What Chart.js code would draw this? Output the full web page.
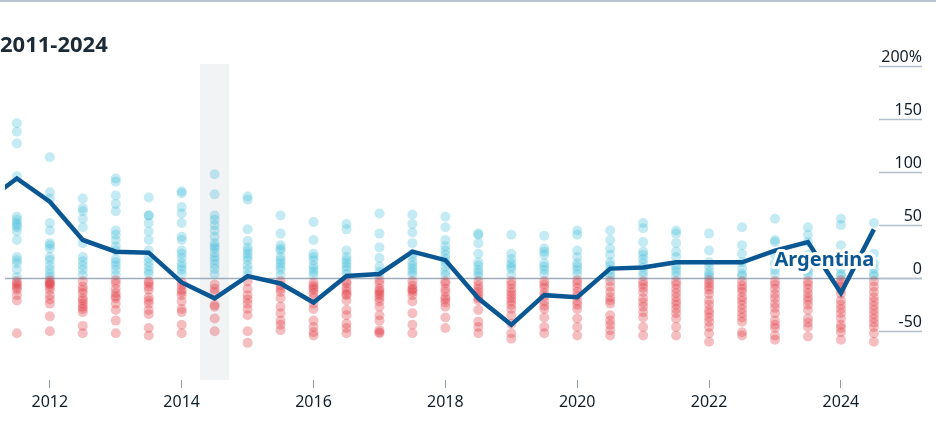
<!DOCTYPE html>
<html>
<head>
<meta charset="utf-8">
<script src="https://cdn.jsdelivr.net/npm/chart.js@4.4.1/dist/chart.umd.min.js"></script>
<style>
  html, body { margin: 0; padding: 0; background: #fff; }
  #wrap { width: 936px; height: 422px; position: relative; }
</style>
</head>
<body>
<div id="wrap"><canvas id="chart"></canvas></div>
<script>
// half-year periods, one column of dots each
const periods = [2011.5, 2012, 2012.5, 2013, 2013.5, 2014, 2014.5, 2015, 2015.5, 2016, 2016.5, 2017, 2017.5,
  2018, 2018.5, 2019, 2019.5, 2020, 2020.5, 2021, 2021.5, 2022, 2022.5, 2023, 2023.5, 2024, 2024.5];

// other countries, % change per period
const spread = [
  [146, 138, 127, 96, 58, 55, 52, 50, 48, 44, 36, 20, 17, 14, 8, 1, -3, -5, -7, -9, -11, -16, -21, -52],
  [114, 81, 75, 52, 45, 33, 31, 28, 20, 17, 12, 8, 4, 1, -2, -4, -5, -6, -8, -11, -16, -20, -24, -36, -50],
  [75, 66, 63, 56, 48, 33, 20, 16, 12, 8, 3, -3, -8, -11, -14, -19, -21, -24, -27, -29, -32, -45, -52],
  [94, 91, 78, 70, 63, 45, 41, 36, 30, 26, 18, 15, 12, 8, 3, -2, -5, -10, -14, -17, -19, -24, -30, -40, -52],
  [76, 59, 59, 52, 44, 36, 26, 19, 15, 11, 7, 4, -3, -5, -8, -11, -18, -21, -24, -30, -34, -47, -54],
  [82, 80, 67, 61, 52, 39, 36, 26, 23, 19, 14, 11, 8, 4, -4, -7, -11, -13, -16, -22, -29, -32, -44, -52],
  [98, 79, 59, 55, 50, 45, 39, 33, 30, 28, 24, 20, 17, 13, 9, 4, -6, -10, -13, -25, -27, -38, -50],
  [77, 74, 46, 35, 29, 26, 23, 20, 17, 12, 8, 3, -3, -10, -16, -20, -24, -29, -35, -50, -61],
  [59, 42, 31, 28, 26, 20, 17, 14, 11, 8, 3, -3, -7, -10, -13, -19, -27, -33, -40, -44, -49],
  [53, 36, 23, 20, 17, 12, 9, 6, 3, -4, -7, -9, -11, -14, -18, -24, -29, -40, -46, -51, -54],
  [51, 46, 26, 20, 17, 14, 11, 8, 4, -3, -5, -9, -12, -15, -16, -21, -30, -35, -43, -47, -52],
  [61, 42, 29, 19, 11, 6, 3, -2, -5, -10, -12, -14, -16, -19, -22, -27, -35, -40, -49, -51, -52],
  [60, 51, 43, 33, 23, 20, 15, 12, 9, 6, 3, -3, -7, -10, -11, -13, -16, -22, -33, -44, -52],
  [58, 48, 36, 30, 26, 22, 18, 15, 11, 6, 3, -3, -5, -10, -13, -18, -20, -23, -27, -37, -47],
  [42, 41, 33, 23, 15, 12, 8, 5, 2, -3, -7, -10, -13, -16, -19, -21, -30, -41, -46, -52],
  [41, 23, 18, 14, 11, 9, 3, -3, -6, -10, -13, -16, -19, -22, -25, -29, -35, -43, -52, -57],
  [40, 28, 25, 22, 14, 11, 8, 4, -3, -6, -9, -14, -17, -22, -26, -29, -37, -46, -52],
  [45, 41, 26, 20, 14, 11, 8, 4, -2, -5, -9, -13, -17, -22, -25, -29, -38, -46, -54],
  [45, 36, 28, 22, 15, 12, 8, 4, 1, -3, -8, -13, -18, -21, -24, -35, -40, -44, -49, -54],
  [52, 47, 34, 25, 22, 18, 14, 10, 6, 2, -3, -6, -9, -13, -19, -23, -27, -32, -37, -46, -54],
  [45, 42, 33, 25, 20, 12, 9, 6, 2, -3, -6, -10, -14, -18, -22, -25, -29, -33, -38, -46, -54],
  [42, 26, 15, 11, 6, 3, 1, -2, -5, -8, -11, -15, -21, -25, -30, -33, -37, -41, -46, -52, -60],
  [48, 31, 23, 15, 9, 4, 2, -3, -7, -10, -13, -18, -21, -25, -29, -33, -37, -41, -51, -54],
  [56, 36, 34, 22, 14, 8, 4, -3, -6, -10, -15, -19, -24, -28, -33, -40, -44, -47, -54, -58],
  [48, 41, 34, 22, 14, 9, 6, 3, -3, -6, -10, -14, -18, -21, -25, -30, -38, -42, -46, -55],
  [56, 50, 31, 9, 4, 2, -2, -5, -8, -11, -15, -21, -25, -29, -33, -38, -44, -47, -51, -58],
  [52, 23, 14, 9, 4, 2, -3, -8, -13, -18, -22, -26, -30, -34, -38, -42, -46, -52, -60]
];

// Argentina, one more period to the left that runs off the chart
const argentinaPeriods = [2011, ...periods];
const argentina = [71, 94, 72, 36, 25, 24, -4, -19, 2, -5, -23, 2, 4, 25, 17, -19, -44, -16, -18,
  9, 10, 15, 15, 15, 26, 34, -14, 46];

const xTicks = [2012, 2014, 2016, 2018, 2020, 2022, 2024];
const yTicks = [200, 150, 100, 50, 0, -50];
const yTickLabels = ['200%', '150', '100', '50', '0', '-50'];
const title = '2011-2024';
const seriesLabel = 'Argentina';

const FONT = '"Noto Sans", "DejaVu Sans", sans-serif';
const INK = '#121f2b';
const GRID = '#b3c0cc';
const LINE = '#0b5794';

const dots = [];
periods.forEach((p, i) => spread[i].forEach(v => dots.push({ x: p, y: v })));
const argPoints = argentinaPeriods.map((p, i) => ({ x: p, y: argentina[i] }));

const decor = {
  id: 'decor',
  beforeDraw(chart) {
    const { ctx, chartArea, scales } = chart;
    ctx.save();
    // top rule
    ctx.fillStyle = '#b9c5d1';
    ctx.fillRect(0, 0, chart.width, 2);
    // title
    ctx.fillStyle = '#1c2a36';
    ctx.font = 'bold 22px ' + FONT;
    ctx.textBaseline = 'alphabetic';
    ctx.textAlign = 'left';
    ctx.fillText(title, 0, 52);
    // shaded band round mid-2014
    const x0 = scales.x.getPixelForValue(2014.28);
    const x1 = scales.x.getPixelForValue(2014.72);
    ctx.fillStyle = '#f2f3f5';
    ctx.fillRect(x0, chartArea.top - 2, x1 - x0, chartArea.bottom - chartArea.top + 2);
    ctx.restore();
  },
  beforeDatasetsDraw(chart) {
    const { ctx, chartArea, scales } = chart;
    ctx.save();
    ctx.strokeStyle = '#9fadba';
    ctx.lineWidth = 1.5;
    const y0 = Math.round(scales.y.getPixelForValue(0)) + 0.5;
    ctx.beginPath();
    ctx.moveTo(chartArea.left, y0);
    ctx.lineTo(chartArea.right, y0);
    ctx.stroke();
    ctx.restore();
  },
  afterDatasetsDraw(chart) {
    const { ctx, chartArea, scales } = chart;
    ctx.save();
    // right-hand value labels over short grid stubs
    ctx.font = '16px ' + FONT;
    ctx.textAlign = 'right';
    ctx.textBaseline = 'alphabetic';
    yTicks.forEach((t, i) => {
      const y = Math.round(scales.y.getPixelForValue(t)) + 0.5;
      ctx.strokeStyle = GRID;
      ctx.lineWidth = 1.5;
      ctx.beginPath();
      ctx.moveTo(chartArea.right - 43, y);
      ctx.lineTo(chartArea.right, y);
      ctx.stroke();
      ctx.fillStyle = INK;
      ctx.fillText(yTickLabels[i], chartArea.right, y - 5);
    });
    // series label with white halo
    const lx = scales.x.getPixelForValue(2023.75);
    const ly = scales.y.getPixelForValue(11);
    ctx.font = 'bold 20px ' + FONT;
    ctx.textAlign = 'center';
    ctx.lineJoin = 'round';
    ctx.lineWidth = 6;
    ctx.strokeStyle = '#fff';
    ctx.strokeText(seriesLabel, lx, ly);
    ctx.fillStyle = LINE;
    ctx.fillText(seriesLabel, lx, ly);
    ctx.restore();
  }
};

new Chart(document.getElementById('chart'), {
  type: 'scatter',
  data: {
    datasets: [
      {
        type: 'line',
        label: seriesLabel,
        data: argPoints,
        borderColor: LINE,
        borderWidth: 4.5,
        pointRadius: 0,
        tension: 0,
        fill: false,
        borderJoinStyle: 'miter'
      },
      {
        label: 'Others',
        data: dots,
        pointRadius: 5,
        pointBorderWidth: 0,
        pointBackgroundColor: c => (c.raw && c.raw.y >= 0) ? 'rgba(60,185,215,0.3)' : 'rgba(225,55,65,0.32)',
        pointBorderColor: 'rgba(0,0,0,0)'
      }
    ]
  },
  options: {
    responsive: true,
    maintainAspectRatio: false,
    animation: false,
    layout: { padding: { left: 0, right: 14, top: 66, bottom: 8 } },
    plugins: {
      legend: { display: false },
      tooltip: { enabled: false },
      title: { display: false }
    },
    scales: {
      x: {
        type: 'linear',
        min: 2011.32,
        max: 2025.23,
        afterBuildTicks: axis => { axis.ticks = xTicks.map(v => ({ value: v })); },
        afterFit: axis => { axis.height = 34; },
        border: { display: false },
        grid: { drawOnChartArea: false, drawTicks: true, tickLength: 8, color: '#8c9cab', lineWidth: 1 },
        ticks: {
          color: INK,
          font: { family: FONT, size: 16 },
          padding: 5,
          maxRotation: 0,
          callback: v => String(v)
        }
      },
      y: {
        display: false,
        min: -96,
        max: 200
      }
    }
  },
  plugins: [decor]
});
</script>
</body>
</html>
